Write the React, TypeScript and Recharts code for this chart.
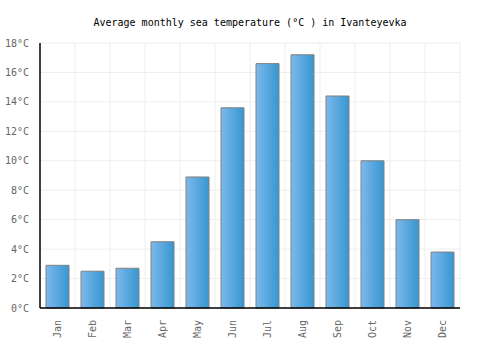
import React from "react";
import { BarChart, Bar, XAxis, YAxis, CartesianGrid } from "recharts";

const months = ["Jan", "Feb", "Mar", "Apr", "May", "Jun", "Jul", "Aug", "Sep", "Oct", "Nov", "Dec"];
const temps = [2.9, 2.5, 2.7, 4.5, 8.9, 13.6, 16.6, 17.2, 14.4, 10.0, 6.0, 3.8];
const yTicks = [0, 2, 4, 6, 8, 10, 12, 14, 16, 18];
const title = "Average monthly sea temperature (°C ) in Ivanteyevka";

const data = months.map((m, i) => ({ month: m, temp: temps[i] }));

const font = "'DejaVu Sans Mono', monospace";

const XTick = (props: any) => {
  const { x, y, payload } = props;
  return (
    <text
      x={x}
      y={y}
      transform={`rotate(-90, ${x}, ${y})`}
      textAnchor="end"
      dominantBaseline="central"
      fontFamily={font}
      fontSize={10}
      fill="#666"
    >
      {payload.value}
    </text>
  );
};

export default function App() {
  return (
    <div style={{ position: "absolute", left: 0, top: 0, width: 500, height: 350, background: "#fff" }}>
      <svg width={500} height={350} style={{ position: "absolute", left: 0, top: 0 }}>
        <text x={250} y={22} textAnchor="middle" dominantBaseline="central" fontFamily={font} fontSize={10} fill="#000">
          {title}
        </text>
      </svg>
      <div style={{ position: "absolute", left: 0, top: 0 }}>
        <BarChart width={500} height={350} data={data} margin={{ top: 43, right: 40, bottom: 0, left: 0 }} barSize={23}>
          <defs>
            <linearGradient id="barGrad" x1="0" y1="0" x2="1" y2="0">
              <stop offset="0%" stopColor="#7cb9ec" />
              <stop offset="100%" stopColor="#3796d0" />
            </linearGradient>
          </defs>
          <CartesianGrid
            stroke="#eeeeee"
            strokeWidth={1}
            verticalCoordinatesGenerator={({ offset }: any) =>
              months.map((_, i) => offset.left + ((i + 1) * offset.width) / months.length)
            }
          />
          <XAxis
            dataKey="month"
            height={42}
            tickLine={false}
            axisLine={{ stroke: "#000", strokeWidth: 1.5 }}
            tick={<XTick />}
            interval={0}
            tickMargin={6}
          />
          <YAxis
            width={40}
            domain={[0, 18]}
            ticks={yTicks}
            tickLine={false}
            axisLine={{ stroke: "#000", strokeWidth: 1.5 }}
            tickFormatter={(v: number) => `${v}°C`}
            tick={{ fontFamily: font, fontSize: 10, fill: "#666" }}
            tickMargin={5}
          />
          <Bar dataKey="temp" fill="url(#barGrad)" stroke="#808080" strokeWidth={1} isAnimationActive={false} />
        </BarChart>
      </div>
    </div>
  );
}
